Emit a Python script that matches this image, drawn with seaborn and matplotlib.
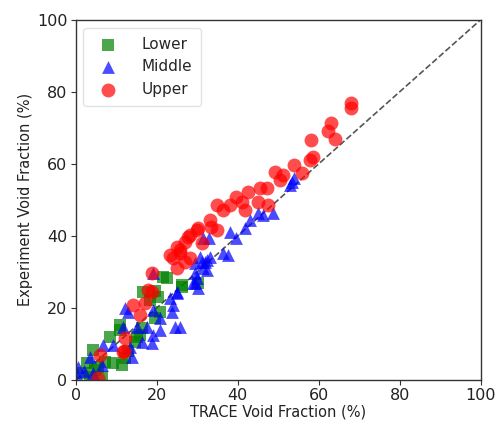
import numpy as np
import pandas as pd
import matplotlib
matplotlib.use("Agg")
import matplotlib.pyplot as plt
import seaborn as sns

# TRACE-predicted vs measured void fraction (%), by axial location
lower_trace = [22.5, 26.2, 16.5, 20.2, 18.3, 10.9, 8.4, 15.8, 16.3, 10.9, 14.6, 12.1,
               9.1, 11.4, 7.2, 4.2, 2.7, 4.7, 1.7, 6.4, 3.5, 20.7, 19.5, 15.0, 21.5,
               19.5, 26.2, 30.1, 5.5, 13.0]
lower_exp = [28.3, 25.8, 24.4, 23.1, 22.2, 15.3, 12.0, 12.5, 14.4, 13.9, 10.6, 6.1,
             4.7, 4.2, 5.0, 8.3, 4.7, 2.8, 1.9, 0.8, 0.8, 18.9, 17.2, 12.0, 28.6,
             24.7, 26.4, 26.9, 3.5, 8.0]

middle_trace = [54.0, 52.8, 48.6, 46.2, 45.0, 43.0, 41.7, 39.6, 38.0, 37.5, 36.3, 33.1,
                31.4, 32.3, 31.1, 31.4, 29.4, 28.9, 24.9, 33.0, 30.6, 31.9, 29.4, 32.3,
                29.9, 29.4, 24.9, 23.2, 24.0, 23.7, 24.4, 25.7, 20.7, 19.0, 17.5, 15.0,
                12.8, 11.6, 16.3, 13.3, 13.8, 9.1, 6.7, 3.5, 0.5, 0.0, 6.4, 4.2, 18.8,
                19.0, 20.7, 19.0, 12.1, 30.1, 53.5, 2.0]
middle_exp = [56.0, 54.2, 46.4, 45.8, 46.4, 44.4, 42.2, 39.4, 41.1, 34.7, 35.3, 34.2,
              39.4, 33.3, 32.8, 31.1, 29.7, 26.9, 24.2, 39.4, 34.2, 32.8, 32.5, 30.6,
              28.3, 26.9, 24.4, 22.8, 20.8, 18.9, 14.7, 14.7, 17.2, 19.4, 14.7, 14.7,
              18.9, 14.7, 10.6, 9.2, 6.4, 9.7, 9.7, 6.4, 3.6, 1.9, 4.2, 1.9, 10.3,
              12.5, 13.9, 29.7, 20.0, 25.6, 55.0, 2.5]

upper_trace = [68.1, 68.1, 63.1, 62.3, 64.0, 58.2, 58.5, 57.8, 56.0, 54.0, 49.1, 51.1,
               50.4, 47.2, 45.4, 42.5, 39.6, 41.0, 38.0, 34.8, 36.3, 41.7, 45.0, 47.4,
               33.1, 33.5, 30.1, 34.8, 27.7, 26.9, 31.1, 24.9, 25.7, 28.1, 24.0, 28.1,
               29.9, 23.2, 25.7, 24.9, 26.9, 18.8, 17.8, 18.8, 14.1, 17.0, 15.8, 12.1,
               11.6, 5.9, 5.4, 12.0]
upper_exp = [76.9, 75.5, 71.4, 69.0, 67.0, 66.7, 62.0, 61.0, 57.5, 59.7, 57.8, 57.0,
             55.6, 53.3, 53.3, 52.2, 50.8, 49.4, 48.6, 48.6, 47.2, 47.2, 49.4, 48.6,
             44.4, 42.5, 42.2, 41.7, 39.7, 38.3, 38.0, 37.0, 35.3, 33.9, 33.9, 40.3,
             41.7, 34.7, 36.1, 31.1, 32.8, 29.7, 25.0, 24.4, 20.8, 21.4, 18.0, 11.7,
             7.8, 6.9, 0.6, 8.0]

groups = ["Lower", "Middle", "Upper"]
df = pd.concat([
    pd.DataFrame({"trace": lower_trace, "exp": lower_exp, "loc": "Lower"}),
    pd.DataFrame({"trace": middle_trace, "exp": middle_exp, "loc": "Middle"}),
    pd.DataFrame({"trace": upper_trace, "exp": upper_exp, "loc": "Upper"}),
], ignore_index=True)

sns.set_style("ticks")
plt.rcParams["font.family"] = ["DejaVu Sans"]

fig, ax = plt.subplots(figsize=(4.99, 4.23), dpi=100)
fig.subplots_adjust(left=0.152, right=0.963, top=0.953, bottom=0.102)

palette = {"Lower": "green", "Middle": "blue", "Upper": "red"}
markers = {"Lower": "s", "Middle": "^", "Upper": "o"}
sizes = {"Lower": 70, "Middle": 85, "Upper": 100}

for g in groups:
    sub = df[df["loc"] == g]
    sns.scatterplot(data=sub, x="trace", y="exp", color=palette[g],
                    marker=markers[g], s=sizes[g], alpha=0.7, linewidth=0,
                    label=g, ax=ax)

ax.plot([0, 100], [0, 100], ls="--", color="#555555", lw=1.2, zorder=0)

ax.set_xlim(0, 100)
ax.set_ylim(0, 100)
ax.set_xticks([0, 20, 40, 60, 80, 100])
ax.set_yticks([0, 20, 40, 60, 80, 100])
ax.tick_params(labelsize=11.5, length=3.5, pad=2.5, color="#333333",
               labelcolor="#222222")
for sp in ax.spines.values():
    sp.set_color("#333333")
    sp.set_linewidth(1.0)
ax.set_xlabel("TRACE Void Fraction (%)", fontsize=10.5, color="#222222",
              labelpad=1)
ax.set_ylabel("Experiment Void Fraction (%)", fontsize=10.5, color="#222222",
              labelpad=3)

leg = ax.legend(loc="upper left", fontsize=11, frameon=True, borderpad=0.6,
                handletextpad=1.2, labelspacing=0.5)
leg.get_frame().set_edgecolor("#dddddd")

fig.savefig("out.png", dpi=100)
